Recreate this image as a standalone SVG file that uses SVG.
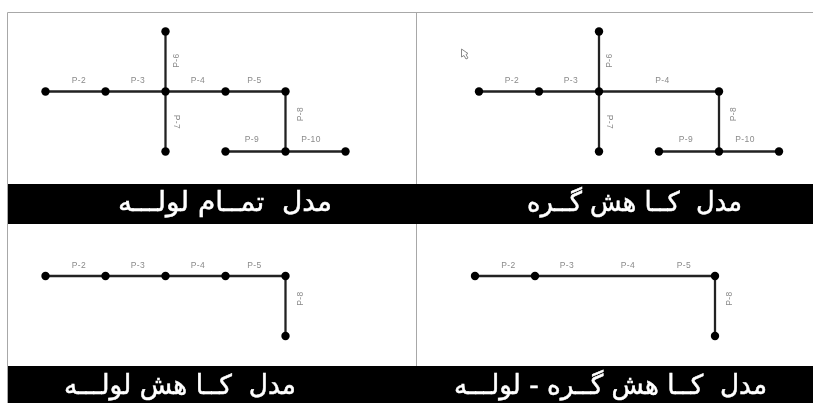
<svg xmlns="http://www.w3.org/2000/svg" width="813" height="403" viewBox="0 0 813 403">
<style>
.f{fill:none;stroke:#a8a8a8;stroke-width:1}
.p{stroke:#222;stroke-width:2.3;fill:none}
.n{fill:#000}
.l{font-family:"Liberation Sans",Arial,sans-serif;font-size:8.5px;letter-spacing:.4px;fill:#8a8a8a;text-anchor:middle;dominant-baseline:central}
.t{font-family:"DejaVu Sans",sans-serif;font-size:27px;fill:#fff;stroke:#fff;stroke-width:.5;text-anchor:middle;white-space:pre}
</style>
<defs>
<filter id="b" x="-5%" y="-5%" width="110%" height="110%"><feGaussianBlur stdDeviation="0.45"/></filter>
<circle id="d" r="4.2"/>
</defs>
<rect width="813" height="403" fill="#fff"/>
<g filter="url(#b)">
<g id="frame">
<path class="f" d="M7.5 403V12.5H813M416.5 12.5V366"/>
<rect x="8" y="184" width="805" height="40" fill="#000"/>
<rect x="8" y="366" width="805" height="37" fill="#000"/>
</g>
<g id="connectors">
<path class="p" d="M45.5 91.5H285.5V151.5M165.5 31.5V151.5M225.5 151.5H345.5"/>
<path class="p" d="M479 91.5H719V151.5M599 31.5V151.5M659 151.5H779"/>
<path class="p" d="M45.5 276H285.5V336"/>
<path class="p" d="M475 276H715V336"/>
</g>
<g id="model-full">
<g class="n"><use href="#d" x="45.5" y="91.5"/><use href="#d" x="105.5" y="91.5"/><use href="#d" x="165.5" y="91.5"/><use href="#d" x="225.5" y="91.5"/><use href="#d" x="285.5" y="91.5"/><use href="#d" x="165.5" y="31.5"/><use href="#d" x="165.5" y="151.5"/><use href="#d" x="225.5" y="151.5"/><use href="#d" x="285.5" y="151.5"/><use href="#d" x="345.5" y="151.5"/></g>
<text class="l" x="79" y="80">P-2</text><text class="l" x="138" y="80">P-3</text><text class="l" x="198" y="80">P-4</text><text class="l" x="254.5" y="80">P-5</text>
<text class="l" x="252" y="139">P-9</text><text class="l" x="311" y="139">P-10</text>
<text class="l" transform="translate(175.5 60.5) rotate(-90)">P-6</text>
<text class="l" transform="translate(177 122) rotate(90)">P-7</text>
<text class="l" transform="translate(299.5 114) rotate(-90)">P-8</text>
<text class="t" x="225" y="211" textLength="214" lengthAdjust="spacingAndGlyphs" xml:space="preserve">مدل  تمــام لولـــه</text>
</g>
<g id="model-node-reduction">
<g class="n"><use href="#d" x="479" y="91.5"/><use href="#d" x="539" y="91.5"/><use href="#d" x="599" y="91.5"/><use href="#d" x="719" y="91.5"/><use href="#d" x="599" y="31.5"/><use href="#d" x="599" y="151.5"/><use href="#d" x="659" y="151.5"/><use href="#d" x="719" y="151.5"/><use href="#d" x="779" y="151.5"/></g>
<text class="l" x="512" y="80">P-2</text><text class="l" x="571" y="80">P-3</text><text class="l" x="662.5" y="80">P-4</text>
<text class="l" x="686" y="139">P-9</text><text class="l" x="745" y="139">P-10</text>
<text class="l" transform="translate(608.5 60.5) rotate(-90)">P-6</text>
<text class="l" transform="translate(610 122) rotate(90)">P-7</text>
<text class="l" transform="translate(733 114) rotate(-90)">P-8</text>
<text class="t" x="634.5" y="211" textLength="215" lengthAdjust="spacingAndGlyphs" xml:space="preserve">مدل  کــا هش گــره</text>
<path d="M461.5 49V57L464 55.5 466 59 468 58 466 54.5 468 53.5Z" fill="#fff" stroke="#888" stroke-width="1"/>
</g>
<g id="model-pipe-reduction">
<g class="n"><use href="#d" x="45.5" y="276"/><use href="#d" x="105.5" y="276"/><use href="#d" x="165.5" y="276"/><use href="#d" x="225.5" y="276"/><use href="#d" x="285.5" y="276"/><use href="#d" x="285.5" y="336"/></g>
<text class="l" x="79" y="264.5">P-2</text><text class="l" x="138" y="264.5">P-3</text><text class="l" x="198" y="264.5">P-4</text><text class="l" x="254.5" y="264.5">P-5</text>
<text class="l" transform="translate(299.5 298.5) rotate(-90)">P-8</text>
<text class="t" x="180" y="394" textLength="232" lengthAdjust="spacingAndGlyphs" xml:space="preserve">مدل  کــا هش لولـــه</text>
</g>
<g id="model-node-pipe-reduction">
<g class="n"><use href="#d" x="475" y="276"/><use href="#d" x="535" y="276"/><use href="#d" x="715" y="276"/><use href="#d" x="715" y="336"/></g>
<text class="l" x="508.5" y="264.5">P-2</text><text class="l" x="567" y="264.5">P-3</text><text class="l" x="628" y="264.5">P-4</text><text class="l" x="684" y="264.5">P-5</text>
<text class="l" transform="translate(729 298.5) rotate(-90)">P-8</text>
<text class="t" x="610.5" y="394" textLength="313" lengthAdjust="spacingAndGlyphs" xml:space="preserve">مدل  کــا هش گــره - لولـــه</text>
</g>
</g>
</svg>
